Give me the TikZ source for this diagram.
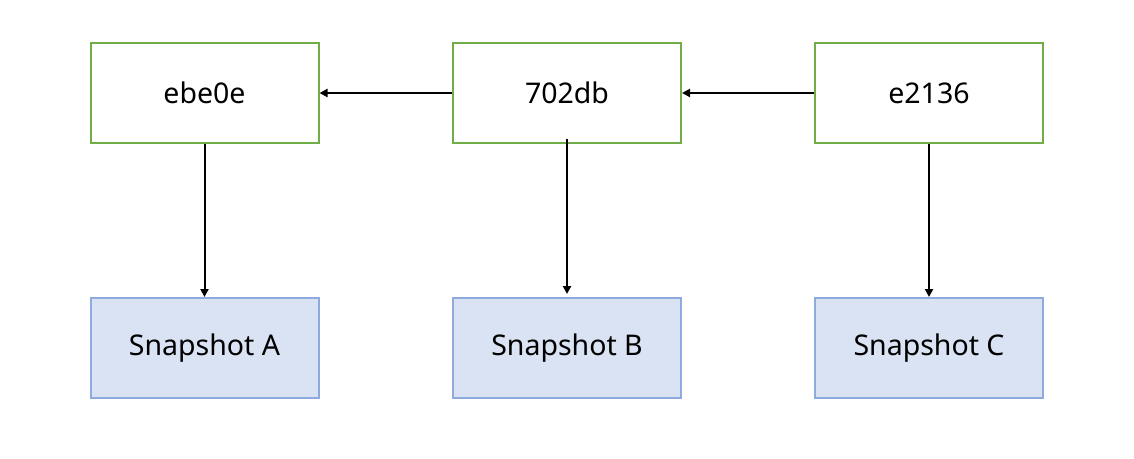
\documentclass[tikz,border=0pt]{standalone}
\usepackage{fontspec}
\setmainfont{Noto Sans}
\usetikzlibrary{arrows.meta}
\definecolor{gborder}{HTML}{70AD47}
\definecolor{bborder}{HTML}{8FAADC}
\definecolor{bfill}{HTML}{DAE3F3}
\begin{document}
\begin{tikzpicture}[x=1pt,y=-1pt,
  commitbox/.style={draw=gborder,line width=2pt,fill=white,minimum width=228pt,minimum height=100pt,inner sep=0pt,font=\fontsize{28.5}{34}\selectfont},
  snapbox/.style={draw=bborder,line width=2pt,fill=bfill,minimum width=228pt,minimum height=100pt,inner sep=0pt,font=\fontsize{28.5}{34}\selectfont},
  conn/.style={line width=2pt,-{Triangle[length=8pt,width=8pt]}}]
\useasboundingbox (0,0) rectangle (1134,458);
\node[commitbox] (c1) at (204.5,93) {ebe0e};
\node[commitbox] (c2) at (567,93) {702db};
\node[commitbox] (c3) at (929,93) {e2136};
\node[snapbox] (s1) at (204.5,348) {Snapshot A};
\node[snapbox] (s2) at (567,348) {Snapshot B};
\node[snapbox] (s3) at (929,348) {Snapshot C};
\draw[conn] (c2.west) -- (c1.east);
\draw[conn] (c3.west) -- (c2.east);
\draw[conn] (c1.south) -- (s1.north);
\draw[conn] ([yshift=5pt]c2.south) -- ([yshift=3pt]s2.north);
\draw[conn] (c3.south) -- (s3.north);
\end{tikzpicture}
\end{document}
